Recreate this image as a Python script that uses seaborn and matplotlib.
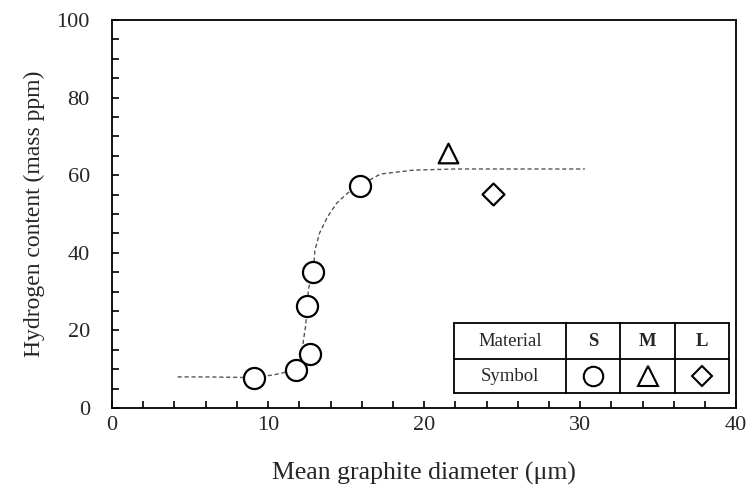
import matplotlib
matplotlib.use('Agg')
import matplotlib.pyplot as plt
import seaborn as sns

# Material S (circles)
s_diameter = [9.1, 11.8, 12.7, 12.5, 12.9, 15.9]
s_hydrogen = [7.7, 9.8, 13.9, 26.3, 35.1, 57.2]
# Material M (triangle) and L (diamond)
m_diameter = [21.5]
m_hydrogen = [65.8]
l_diameter = [24.4]
l_hydrogen = [55.2]

# dashed guide curve
curve_x = [4.2, 6.0, 8.0, 9.0, 10.3, 10.9, 11.7, 12.2, 12.25, 12.4, 12.5, 12.6,
           12.9, 13.0, 13.3, 13.8, 14.4, 15.1, 15.9, 17.2, 19.3, 22.0, 26.0, 30.3]
curve_y = [8.0, 8.0, 7.9, 7.8, 8.5, 9.0, 9.9, 13.0, 17.0, 21.0, 26.3, 31.0,
           35.0, 40.7, 45.1, 49.2, 52.8, 55.4, 57.4, 60.3, 61.3, 61.6, 61.6, 61.6]

# legend table
table_header = ['Material', 'S', 'M', 'L']
table_row_label = 'Symbol'
table_markers = ['o', '^', 'D']

sns.set_style('ticks')
plt.rcParams['font.family'] = ['Liberation Serif', 'DejaVu Serif']

fig = plt.figure(figsize=(7.52, 4.95), dpi=100)
ax = fig.add_axes([0.149, 0.1758, 0.83, 0.7838])

sns.lineplot(x=curve_x, y=curve_y, sort=False, estimator=None, ax=ax,
             color='#555555', linewidth=1.0, linestyle=(0, (3, 2)), zorder=2)

mk = dict(color='white', edgecolor='black', linewidth=1.6, zorder=3, ax=ax, legend=False)
sns.scatterplot(x=s_diameter, y=s_hydrogen, marker='o', s=230, **mk)
sns.scatterplot(x=m_diameter, y=m_hydrogen, marker='^', s=200, **mk)
sns.scatterplot(x=l_diameter, y=l_hydrogen, marker='D', s=125, **mk)

ax.set_xlim(0, 40)
ax.set_ylim(0, 100)
ax.set_xticks(range(0, 41, 10))
ax.set_xticks(range(0, 41, 2), minor=True)
ax.set_yticks(range(0, 101, 20))
ax.set_yticks(range(0, 101, 5), minor=True)
ax.tick_params(which='both', direction='in', length=5, width=1.2, color='black',
               top=False, right=False)
ax.tick_params(axis='x', which='major', labelsize=16, pad=6)
ax.tick_params(axis='y', which='major', labelsize=16, pad=16)
for sp in ax.spines.values():
    sp.set_linewidth(1.3)
    sp.set_color('black')

ax.set_xlabel('Mean graphite diameter (μm)', fontsize=18.5, labelpad=19)
ax.set_ylabel('Hydrogen content (mass ppm)', fontsize=17, labelpad=8)

# table drawn in axes coordinates
col_edges = [0.548, 0.7276, 0.814, 0.902, 0.989]
row_edges = [0.0387, 0.126, 0.219]
lkw = dict(color='black', linewidth=1.3, transform=ax.transAxes, zorder=4)
for yy in row_edges:
    ax.plot([col_edges[0], col_edges[-1]], [yy, yy], **lkw)
for xx in col_edges:
    ax.plot([xx, xx], [row_edges[0], row_edges[-1]], **lkw)

top_y = (row_edges[1] + row_edges[2]) / 2
bot_y = (row_edges[0] + row_edges[1]) / 2
for i, label in enumerate(table_header):
    cx = (col_edges[i] + col_edges[i + 1]) / 2
    ax.text(cx, top_y, label, transform=ax.transAxes, ha='center', va='center',
            fontsize=13.5, fontweight='normal' if i == 0 else 'bold')
ax.text((col_edges[0] + col_edges[1]) / 2, bot_y, table_row_label,
        transform=ax.transAxes, ha='center', va='center', fontsize=13.5)
for i, m in enumerate(table_markers):
    cx = (col_edges[i + 1] + col_edges[i + 2]) / 2
    ax.plot([cx], [bot_y], marker=m, markersize={'o': 14, '^': 14, 'D': 10.5}[m],
            markerfacecolor='white', markeredgecolor='black', markeredgewidth=1.5,
            transform=ax.transAxes, zorder=5)

fig.savefig('out.png', dpi=100)
